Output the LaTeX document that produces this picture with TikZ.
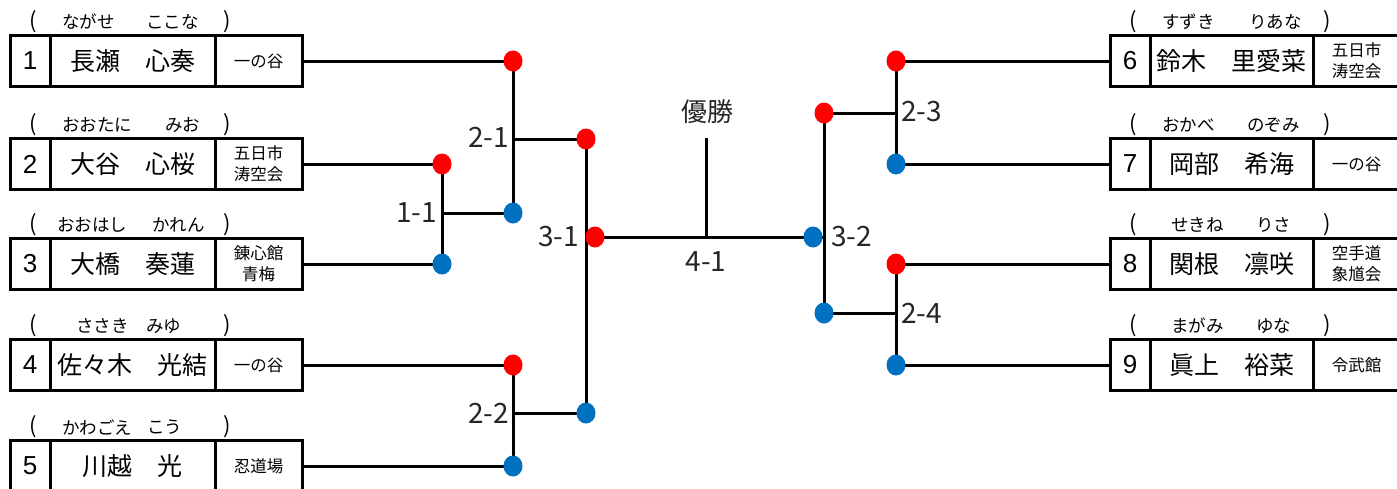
\documentclass[tikz,border=0pt]{standalone}
\usepackage{fontspec}
\setmainfont{Noto Sans CJK JP}
\newfontfamily\numfont{Liberation Sans}
\usetikzlibrary{shapes.geometric}
\definecolor{dotred}{RGB}{255,0,0}
\definecolor{dotblue}{RGB}{0,112,192}
\tikzset{
  cell/.style={draw, line width=3pt, inner sep=0pt, minimum height=51pt},
  numcell/.style={cell, minimum width=40pt, font=\numfont\fontsize{26}{28}\selectfont},
  namecell/.style={cell, font=\fontsize{25}{28}\selectfont},
  clubcell/.style={cell, minimum width=87pt, font=\fontsize{16.5}{21}\selectfont, align=center},
  kana/.style={anchor=west, inner sep=0pt, font=\fontsize{17.5}{19}\selectfont},
  paren/.style={inner sep=0pt, font=\fontsize{22}{24}\selectfont},
  wire/.style={line width=3pt},
  rdot/.style={ellipse, fill=dotred, minimum width=19pt, minimum height=21pt, inner sep=0pt},
  bdot/.style={ellipse, fill=dotblue, minimum width=19pt, minimum height=21pt, inner sep=0pt},
  lbl/.style={inner sep=0pt, text=black!85, font=\fontsize{28}{30}\selectfont},
}
\newcommand{\Lplayer}[9]{%
  \node[numcell] (n#1) at (30,#2) {#3};
  \node[namecell, minimum width=165pt] (m#1) at (132.5,#2) {#4};
  \node[clubcell] (c#1) at (258.5,#2) {#5};
  \node[paren] (pl#1) at (33,#2-39) {(};
  \node[paren] (pr#1) at (227,#2-39) {)};
  \node[kana] (ka#1) at (#7-1,#2-39) {#6};
  \node[kana] (kb#1) at (#9-1,#2-39) {#8};
}
\newcommand{\Rplayer}[9]{%
  \node[numcell] (n#1) at (1130,#2) {#3};
  \node[namecell, minimum width=163pt] (m#1) at (1231.5,#2) {#4};
  \node[clubcell] (c#1) at (1356.5,#2) {#5};
  \node[paren] (pl#1) at (1133,#2-39) {(};
  \node[paren] (pr#1) at (1327,#2-39) {)};
  \node[kana] (ka#1) at (1099+#7,#2-39) {#6};
  \node[kana] (kb#1) at (1099+#9,#2-39) {#8};
}
\begin{document}
\begin{tikzpicture}[x=1pt, y=-1pt]
\useasboundingbox (0,0) rectangle (1397,488);
\clip (0,0) rectangle (1397,488);
\fill[white] (0,0) rectangle (1397,488);

% players
\Lplayer{1}{61}{1}{長瀬　心奏}{一の谷}{ながせ}{63}{ここな}{147}
\Lplayer{2}{164}{2}{大谷　心桜}{五日市\\涛空会}{おおたに}{63}{みお}{166}
\Lplayer{3}{264}{3}{大橋　奏蓮}{錬心館\\青梅}{おおはし}{58}{かれん}{153}
\Lplayer{4}{365}{4}{佐々木　光結}{一の谷}{ささき}{77}{みゆ}{147}
\Lplayer{5}{466}{5}{川越　光}{忍道場}{かわごえ}{63}{こう}{148}
\Rplayer{6}{61}{6}{鈴木　里愛菜}{五日市\\涛空会}{すずき}{63}{りあな}{150}
\Rplayer{7}{164}{7}{岡部　希海}{一の谷}{おかべ}{63}{のぞみ}{148}
\Rplayer{8}{264}{8}{関根　凛咲}{空手道\\象馗会}{せきね}{72}{りさ}{157}
\Rplayer{9}{365}{9}{眞上　裕菜}{令武館}{まがみ}{72}{ゆな}{157}

% dot positions
\coordinate (r1) at (513,61);
\coordinate (r2) at (442,164);
\coordinate (b3) at (442,264);
\coordinate (b11) at (513,213);
\coordinate (r21) at (586,139);
\coordinate (r4) at (513,365);
\coordinate (b5) at (513,466);
\coordinate (b22) at (586,413);
\coordinate (r31) at (595,237);
\coordinate (b32) at (813,237);
\coordinate (r23) at (824,113);
\coordinate (b24) at (824,313);
\coordinate (r6) at (896,61);
\coordinate (b7) at (896,164);
\coordinate (r8) at (896,264);
\coordinate (b9) at (896,365);
\coordinate (win) at (706,138);

% wires
\draw[wire] (c1.east) -- (r1);
\draw[wire] (c2.east) -- (r2);
\draw[wire] (c3.east) -- (b3);
\draw[wire] (r2) -- (b3);
\draw[wire] (r2 |- b11) -- (b11);
\draw[wire] (r1) -- (b11);
\draw[wire] (r1 |- r21) -- (r21);
\draw[wire] (c4.east) -- (r4);
\draw[wire] (c5.east) -- (b5);
\draw[wire] (r4) -- (b5);
\draw[wire] (r4 |- b22) -- (b22);
\draw[wire] (r21) -- (b22);
\draw[wire] (r21 |- r31) -- (r31) -- (b32);
\draw[wire] (win) -- (win |- r31);
\draw[wire] (b32) -- (r23 |- b32);
\draw[wire] (r23) -- (b24);
\draw[wire] (r23) -- (r6 |- r23);
\draw[wire] (b24) -- (r8 |- b24);
\draw[wire] (r6) -- (b7);
\draw[wire] (r8) -- (b9);
\draw[wire] (r6) -- (n6.west);
\draw[wire] (b7) -- (n7.west);
\draw[wire] (r8) -- (n8.west);
\draw[wire] (b9) -- (n9.west);

% dots
\node[rdot] (d1) at (r1) {};
\node[rdot] (d2) at (r2) {};
\node[bdot] (d3) at (b3) {};
\node[bdot] (d11) at (b11) {};
\node[rdot] (d21) at (r21) {};
\node[rdot] (d4) at (r4) {};
\node[bdot] (d5) at (b5) {};
\node[bdot] (d22) at (b22) {};
\node[rdot] (d31) at (r31) {};
\node[bdot] (d32) at (b32) {};
\node[rdot] (d23) at (r23) {};
\node[bdot] (d24) at (b24) {};
\node[rdot] (d6) at (r6) {};
\node[bdot] (d7) at (b7) {};
\node[rdot] (d8) at (r8) {};
\node[bdot] (d9) at (b9) {};

% labels
\node[lbl, anchor=east] (l21) at (509,137) {2-1};
\node[lbl, anchor=east] (l11) at (437,213) {1-1};
\node[lbl, anchor=east] (l31) at (579,237) {3-1};
\node[lbl, anchor=east] (l22) at (509,413) {2-2};
\node[lbl] (l41) at (706,262) {4-1};
\node[lbl, font=\fontsize{26}{28}\selectfont] (champ) at (707,112) {優勝};
\node[lbl, anchor=west] (l23) at (901,112) {2-3};
\node[lbl, anchor=west] (l32) at (831,237) {3-2};
\node[lbl, anchor=west] (l24) at (901,313) {2-4};
\end{tikzpicture}
\end{document}
